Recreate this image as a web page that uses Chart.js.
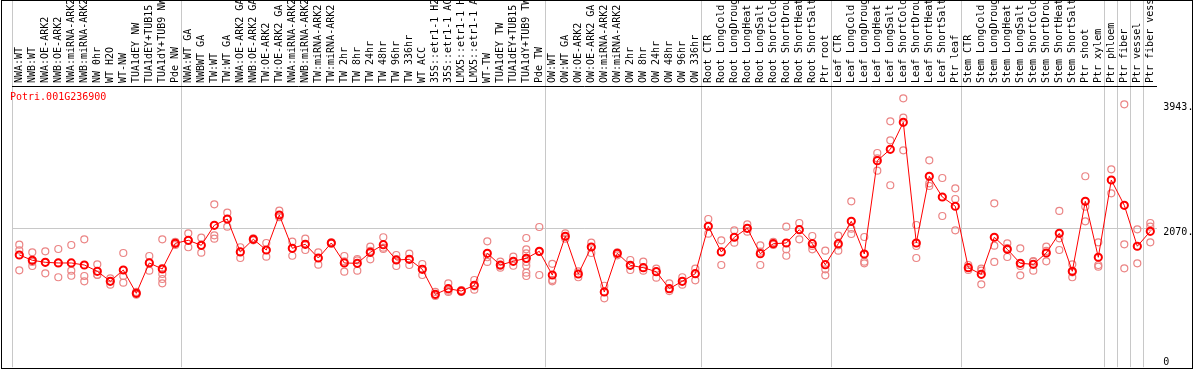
<!DOCTYPE html>
<html><head><meta charset="utf-8">
<script src="https://cdn.jsdelivr.net/npm/chart.js@4/dist/chart.umd.min.js"></script>
<style>html,body{margin:0;padding:0;background:#fff;} #wrap{width:1194px;height:370px;position:relative;}</style>
</head><body><div id="wrap"><canvas id="c"></canvas></div>
<script>
const geneId = 'Potri.001G236900';
const categories = [
 'NWA:WT','NWB:WT','NWA:OE-ARK2','NWB:OE-ARK2','NWA:miRNA-ARK2','NWB:miRNA-ARK2','NW 0hr','WT H2O','WT-NW','TUA1dEY NW',
 'TUA1dEY+TUB15 NW','TUA1dY+TUB9 NW','Pde NW','NWA:WT GA','NWBWT GA','TW:WT','TW:WT GA','NWA:OE-ARK2 GA','NWB:OE-ARK2 GA','TW:OE-ARK2',
 'TW:OE-ARK2 GA','NWA:miRNA-ARK2','NWB:miRNA-ARK2','TW:miRNA-ARK2','TW:miRNA-ARK2','TW 2hr','TW 8hr','TW 24hr','TW 48hr','TW 96hr',
 'TW 336hr','WT ACC','35S::etr1-1 H2O','35S::etr1-1 ACC','LMX5::etr1-1 H2O','LMX5::etr1-1 ACC','WT-TW','TUA1dEY TW','TUA1dEY+TUB15 TW','TUA1dY+TUB9 TW',
 'Pde TW','OW:WT','OW:WT GA','OW:OE-ARK2','OW:OE-ARK2 GA','OW:miRNA-ARK2','OW:miRNA-ARK2','OW 2hr','OW 8hr','OW 24hr',
 'OW 48hr','OW 96hr','OW 336hr','Root CTR','Root LongCold','Root LongDrought','Root LongHeat','Root LongSalt','Root ShortCold','Root ShortDrought',
 'Root ShortHeat','Root ShortSalt','Ptr root','Leaf CTR','Leaf LongCold','Leaf LongDrought','Leaf LongHeat','Leaf LongSalt','Leaf ShortCold','Leaf ShortDrought',
 'Leaf ShortHeat','Leaf ShortSalt','Ptr leaf','Stem CTR','Stem LongCold','Stem LongDrought','Stem LongHeat','Stem LongSalt','Stem ShortCold','Stem ShortDrought',
 'Stem ShortHeat','Stem ShortSalt','Ptr shoot','Ptr xylem','Ptr phloem','Ptr fiber','Ptr vessel','Ptr fiber vessel'
];
const meanValues = [
 1672,1593,1563,1553,1553,1523,1429,1280,1448,1101,
 1553,1463,1846,1891,1816,2114,2208,1717,1906,1746,
 2268,1772,1831,1627,1851,1553,1548,1712,1825,1597,
 1608,1459,1086,1170,1135,1220,1697,1523,1578,1623,
 1727,1374,1951,1389,1791,1121,1697,1518,1483,1423,
 1170,1280,1393,2100,1717,1936,2070,1691,1840,1851,
 2049,1840,1527,1840,2174,1687,3077,3247,3649,1851,
 2845,2536,2398,1483,1384,1936,1757,1548,1533,1702,
 1995,1429,2472,1638,2789,2412,1802,2025
];
const replicateValues = [
 [1825,1742,1444],[1712,1568,1508],[1727,1563,1399],[1761,1553,1340],[1821,1438,1363],
 [1906,1359,1280],[1533,1378,1374],[1325,1284,1229],[1702,1359,1259],[1121,1101,1080],
 [1657,1563,1438],[1906,1478,1389,1314,1250],[1866,1846,1821],[1995,1891,1787],[1930,1816,1706],
 [2427,1965,1915],[2302,2208,2094],[1787,1717,1627],[1921,1906,1891],[1851,1746,1647],
 [2332,2238,2234],[1870,1772,1661],[1915,1831,1746],[1712,1627,1527],[1861,1851,1840],
 [1657,1578,1423],[1612,1593,1438],[1796,1732,1608],[1936,1781,1761],[1672,1612,1508],
 [1691,1608,1523],[1538,1463,1374],[1121,1076,1061],[1250,1140,1121],[1150,1135,1121],
 [1299,1205,1155],[1876,1638,1568],[1572,1512,1483],[1647,1578,1512],[1925,1757,1697,1568,1512,1408,1359],
 [2089,1717,1374],[1540,1300,1280],[1995,1951,1915],[1429,1389,1340],[1855,1791,1702],
 [1214,1121,1027],[1712,1697,1667],[1597,1518,1448],[1572,1483,1438],[1468,1423,1334],
 [1250,1170,1135],[1340,1280,1229],[1468,1393,1295],[2208,2100,1989],[1891,1717,1523],
 [2040,1936,1855],[2129,2070,2019],[1816,1721,1523],[1866,1840,1821],[2094,1757,1661],
 [2149,2049,1906],[1955,1806,1757],[1736,1459,1369],[1960,1816,1736],[2472,2064,1985],
 [1940,1572,1548],[3192,3113,2928],[3664,3381,2711],[4007,3718,3232],[2119,1806,1627],
 [3083,2740,2700],[2819,2536,2253],[2666,2506,2040],[1523,1483,1448],[1468,1438,1235],
 [2442,1811,1568],[1846,1776,1642],[1772,1508,1369],[1582,1572,1438],[1796,1732,1578],
 [2328,1921,1746],[1533,1414,1340],[2845,2392,2174],[1861,1523,1498],[2949,2789,2591],
 [3917,1831,1474],[2055,1802,1548],[2149,2094,1861]
];
const yTickValues = [0, 2070, 3943];
const yMax = 4190;
const groupSeparatorIndices = [0, 13, 41, 53, 63, 73, 84, 85, 86, 87, 88];

const MONO = "'DejaVu Sans Mono', 'Liberation Mono', monospace";
const REP_COLOR = '#eb8585';

// one dataset per replicate slot, aligned with categories (null where a sample has fewer replicates)
const maxReps = Math.max(...replicateValues.map(a => a.length));
const replicateDatasets = [];
for (let j = 0; j < maxReps; j++) {
  replicateDatasets.push({
    type: 'line', data: replicateValues.map(a => (j < a.length ? a[j] : null)),
    showLine: false, pointRadius: 3.5, pointBorderWidth: 1.2,
    pointBorderColor: REP_COLOR, pointBackgroundColor: 'rgba(0,0,0,0)', borderColor: REP_COLOR
  });
}

const framePlugin = {
  id: 'frame',
  beforeDraw(chart) {
    const ctx = chart.ctx;
    ctx.save(); ctx.fillStyle = '#fff'; ctx.fillRect(0, 0, chart.width, chart.height); ctx.restore();
  },
  afterDraw(chart) {
    const ctx = chart.ctx;
    ctx.save();
    ctx.strokeStyle = '#000'; ctx.lineWidth = 1;
    ctx.strokeRect(1.5, 0.5, chart.width - 3, chart.height - 2);
    ctx.fillStyle = '#ff0000';
    ctx.font = '10px ' + MONO;
    ctx.textBaseline = 'middle'; ctx.textAlign = 'left';
    ctx.fillText(geneId, 10, chart.chartArea.top + 11);
    ctx.restore();
  }
};

new Chart(document.getElementById('c'), {
  type: 'line',
  data: {
    labels: categories,
    datasets: [
      {
        type: 'line', data: meanValues, borderColor: '#ff0000', borderWidth: 1,
        pointRadius: 3.6, pointBorderWidth: 2, pointBorderColor: '#ff0000',
        pointBackgroundColor: 'rgba(0,0,0,0)', tension: 0, fill: false
      },
      ...replicateDatasets
    ]
  },
  options: {
    responsive: true, maintainAspectRatio: false, animation: false,
    layout: { autoPadding: false, padding: { left: 12.8, right: 0, top: 0, bottom: 2.8 } },
    plugins: { legend: { display: false }, tooltip: { enabled: false }, title: { display: false } },
    scales: {
      x: {
        type: 'category', position: 'top', offset: true,
        afterFit: s => { s.height = 86; s.paddingLeft = 0; s.paddingRight = 0; },
        grid: {
          offset: true, drawOnChartArea: true, drawTicks: true, tickLength: 86, lineWidth: 1,
          color: ctx => groupSeparatorIndices.includes(ctx.index) ? '#c8c8c8' : 'rgba(0,0,0,0)'
        },
        border: { display: true, color: '#000', width: 1 },
        ticks: {
          autoSkip: false, minRotation: 90, maxRotation: 90, padding: -83, labelOffset: 12,
          color: '#000', font: { family: MONO, size: 10 }
        }
      },
      y: {
        type: 'linear', position: 'right', min: 0, max: yMax,
        afterBuildTicks: s => { s.ticks = yTickValues.map(v => ({ value: v })); },
        afterFit: s => { s.width = 37.2; s.paddingTop = 0; s.paddingBottom = 0; },
        grid: {
          drawTicks: false, lineWidth: 1,
          color: ctx => (ctx.tick && ctx.tick.value === 2070) ? '#c8c8c8' : 'rgba(0,0,0,0)'
        },
        border: { display: false },
        ticks: {
          padding: 6.5, labelOffset: 4.5, color: '#000',
          font: ctx => ({ family: MONO, size: 10, lineHeight: (ctx.tick && ctx.tick.value === 0) ? 1.94 : 1.2 }),
          callback: v => v === 0 ? ['0', ''] : v + '.'
        }
      }
    }
  },
  plugins: [framePlugin]
});
</script>
</body></html>
